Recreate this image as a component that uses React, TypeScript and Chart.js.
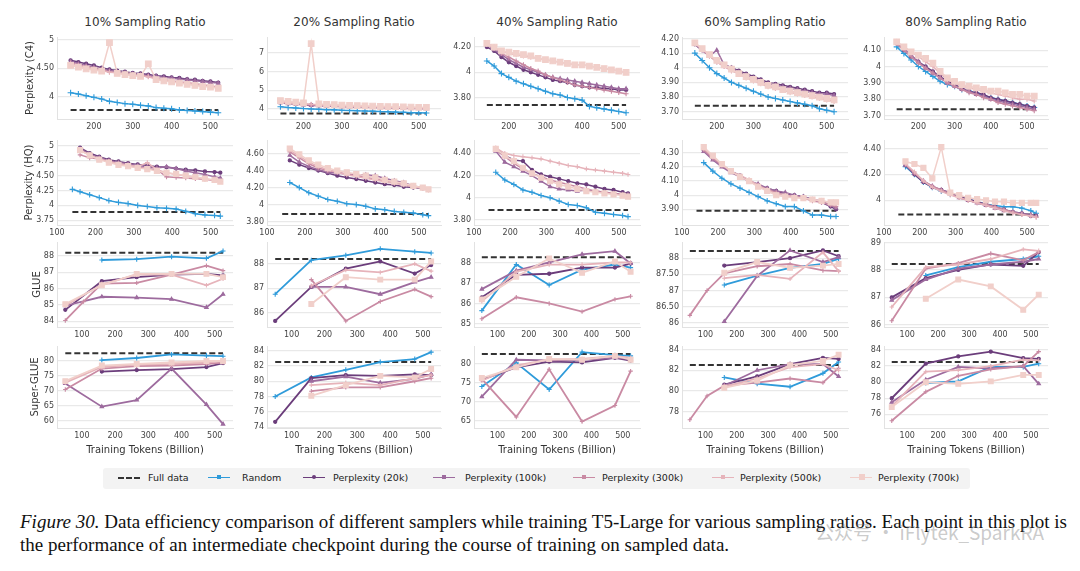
import React, { useEffect, useRef } from "react";
import { Chart, registerables } from "chart.js";
Chart.register(...registerables);

// ---------- labels ----------
const TITLES = ["10% Sampling Ratio", "20% Sampling Ratio", "40% Sampling Ratio", "60% Sampling Ratio", "80% Sampling Ratio"];
const ROW_LABELS = ["Perplexity (C4)", "Perplexity (HQ)", "GLUE", "Super-GLUE"];
const X_TITLE = "Training Tokens (Billion)";
const SERIES = ["Random", "Perplexity (20k)", "Perplexity (100k)", "Perplexity (300k)", "Perplexity (500k)", "Perplexity (700k)"];
const FULL_LABEL = "Full data";

// ---------- x values ----------
const X_DENSE = [140, 160, 180, 200, 220, 240, 260, 280, 300, 320, 340, 360, 380, 400, 420, 440, 460, 480, 500, 520];
const X_MID = [140, 160, 185, 210, 235, 260, 285, 310, 335, 360, 385, 410, 435, 460, 485, 510, 525];
const X_EVAL = [50, 105, 160, 265, 370, 475, 525];

// ---------- Perplexity (C4) : Random, 20k, 100k, 300k, 500k, 700k ----------
const C4_10 = [
  [4.07, 4.05, 4.02, 3.99, 3.96, 3.92, 3.9, 3.88, 3.87, 3.85, 3.84, 3.81, 3.8, 3.79, 3.77, 3.76, 3.75, 3.74, 3.73, 3.72],
  [4.64, 4.61, 4.58, 4.55, 4.51, 4.48, 4.46, 4.44, 4.42, 4.41, 4.39, 4.37, 4.36, 4.34, 4.33, 4.31, 4.3, 4.28, 4.27, 4.25],
  [4.62, 4.58, 4.55, 4.52, 4.48, 4.46, 4.44, 4.42, 4.4, 4.39, 4.37, 4.36, 4.34, 4.33, 4.31, 4.3, 4.28, 4.27, 4.25, 4.24],
  [4.6, 4.56, 4.53, 4.5, 4.47, 4.44, 4.42, 4.41, 4.39, 4.38, 4.36, 4.32, 4.3, 4.28, 4.26, 4.25, 4.23, 4.21, 4.19, 4.17],
  [4.58, 4.54, 4.51, 4.48, 4.46, 4.43, 4.42, 4.4, 4.38, 4.37, 4.35, 4.31, 4.29, 4.27, 4.25, 4.23, 4.21, 4.2, 4.18, 4.16],
  [4.55, 4.52, 4.49, 4.47, 4.45, 4.95, 4.41, 4.39, 4.37, 4.36, 4.58, 4.3, 4.28, 4.26, 4.24, 4.22, 4.2, 4.18, 4.17, 4.15],
];
const C4_20 = [
  [4.12, 4.08, 4.05, 4.02, 4.0, 3.98, 3.96, 3.95, 3.93, 3.92, 3.9, 3.89, 3.88, 3.86, 3.85, 3.83, 3.82, 3.8, 3.79, 3.78],
  [4.35, 4.3, 4.27, 4.24, 4.21, 4.19, 4.17, 4.16, 4.14, 4.13, 4.12, 4.11, 4.1, 4.09, 4.08, 4.07, 4.06, 4.05, 4.04, 4.03],
  [4.33, 4.28, 4.25, 4.22, 4.19, 4.17, 4.15, 4.14, 4.12, 4.11, 4.1, 4.09, 4.08, 4.07, 4.06, 4.05, 4.04, 4.03, 4.02, 4.01],
  [4.38, 4.33, 4.29, 4.26, 4.23, 4.21, 4.19, 4.17, 4.16, 4.14, 4.13, 4.12, 4.11, 4.1, 4.09, 4.08, 4.07, 4.06, 4.05, 4.04],
  [4.4, 4.35, 4.31, 4.28, 4.25, 4.23, 4.21, 4.19, 4.17, 4.16, 4.15, 4.13, 4.12, 4.11, 4.1, 4.09, 4.08, 4.07, 4.06, 4.05],
  [4.45, 4.4, 4.36, 4.33, 7.5, 4.27, 4.25, 4.23, 4.21, 4.19, 4.18, 4.17, 4.15, 4.14, 4.13, 4.12, 4.11, 4.1, 4.09, 4.08],
];
const C4_40 = [
  [4.09, 4.05, 3.99, 3.96, 3.93, 3.91, 3.89, 3.87, 3.85, 3.83, 3.82, 3.8, 3.79, 3.78, 3.73, 3.72, 3.71, 3.7, 3.69, 3.68],
  [4.2, 4.17, 4.12, 4.08, 4.05, 4.02, 4.0, 3.98, 3.96, 3.94, 3.93, 3.92, 3.9, 3.89, 3.88, 3.88, 3.87, 3.87, 3.86, 3.86],
  [4.22, 4.18, 4.14, 4.1, 4.07, 4.04, 4.02, 4.0, 3.98, 3.96, 3.95, 3.94, 3.93, 3.92, 3.91, 3.9, 3.89, 3.88, 3.87, 3.87],
  [4.23, 4.2, 4.15, 4.12, 4.09, 4.06, 4.03, 4.01, 3.98, 3.96, 3.94, 3.92, 3.9, 3.89, 3.88, 3.87, 3.86, 3.85, 3.84, 3.83],
  [4.22, 4.19, 4.17, 4.15, 4.14, 4.13, 4.12, 4.11, 4.1, 4.09, 4.08, 4.07, 4.06, 4.06, 4.05, 4.04, 4.03, 4.02, 4.01, 4.0],
  [4.23, 4.2, 4.17, 4.16, 4.15, 4.14, 4.13, 4.11, 4.1, 4.09, 4.08, 4.07, 4.06, 4.06, 4.05, 4.04, 4.03, 4.02, 4.01, 4.0],
];
const C4_60 = [
  [4.1, 4.05, 4.0, 3.96, 3.93, 3.9, 3.88, 3.86, 3.84, 3.82, 3.8, 3.79, 3.78, 3.77, 3.76, 3.75, 3.74, 3.72, 3.71, 3.7],
  [4.16, 4.12, 4.08, 4.05, 4.02, 4.0, 3.98, 3.96, 3.94, 3.92, 3.9, 3.89, 3.88, 3.87, 3.86, 3.85, 3.84, 3.83, 3.83, 3.82],
  [4.16, 4.12, 4.08, 4.12, 4.02, 4.0, 3.97, 3.95, 3.93, 3.91, 3.89, 3.88, 3.87, 3.86, 3.85, 3.84, 3.83, 3.82, 3.82, 3.81],
  [4.17, 4.12, 4.08, 4.04, 4.01, 3.98, 3.96, 3.94, 3.92, 3.9, 3.88, 3.86, 3.85, 3.84, 3.83, 3.82, 3.81, 3.8, 3.79, 3.78],
  [4.17, 4.13, 4.08, 4.04, 4.01, 3.98, 3.96, 3.93, 3.91, 3.89, 3.87, 3.86, 3.85, 3.83, 3.82, 3.81, 3.8, 3.79, 3.78, 3.77],
  [4.17, 4.13, 4.09, 4.05, 4.02, 3.99, 3.96, 3.94, 3.92, 3.9, 3.88, 3.87, 3.85, 3.84, 3.83, 3.82, 3.81, 3.8, 3.79, 3.78],
];
const C4_80 = [
  [4.12, 4.08, 4.04, 4.0, 3.97, 3.94, 3.91, 3.89, 3.88, 3.86, 3.85, 3.84, 3.82, 3.81, 3.8, 3.79, 3.78, 3.77, 3.76, 3.75],
  [4.14, 4.1, 4.06, 4.03, 4.0, 3.97, 3.94, 3.91, 3.89, 3.87, 3.85, 3.84, 3.83, 3.81, 3.8, 3.79, 3.78, 3.77, 3.76, 3.75],
  [4.15, 4.11, 4.07, 4.03, 3.99, 3.96, 3.93, 3.9, 3.88, 3.86, 3.85, 3.83, 3.82, 3.8, 3.79, 3.78, 3.77, 3.76, 3.75, 3.74],
  [4.14, 4.1, 4.06, 4.02, 3.99, 3.96, 3.93, 3.9, 3.88, 3.86, 3.84, 3.83, 3.81, 3.8, 3.78, 3.77, 3.76, 3.75, 3.74, 3.73],
  [4.15, 4.12, 4.09, 4.06, 4.03, 4.0, 3.96, 3.92, 3.9, 3.88, 3.87, 3.86, 3.85, 3.84, 3.83, 3.82, 3.81, 3.8, 3.8, 3.79],
  [4.15, 4.12, 4.09, 4.07, 4.05, 4.02, 3.97, 3.93, 3.91, 3.89, 3.88, 3.87, 3.86, 3.85, 3.85, 3.84, 3.83, 3.83, 3.82, 3.82],
];

// ---------- Perplexity (HQ) ----------
const HQ_10 = [
  [4.27, 4.23, 4.18, 4.13, 4.08, 4.05, 4.03, 4.0, 3.98, 3.96, 3.95, 3.94, 3.9, 3.86, 3.84, 3.83, 3.82],
  [null, 4.97, 4.88, 4.82, 4.77, 4.74, 4.71, 4.69, 4.67, 4.65, 4.64, 4.62, 4.6, 4.59, 4.57, 4.56, 4.55],
  [null, 4.95, 4.86, 4.8, 4.75, 4.72, 4.7, 4.67, 4.65, 4.63, 4.65, 4.62, 4.58, 4.55, 4.52, 4.48, 4.46],
  [null, 4.85, 4.8, 4.78, 4.74, 4.7, 4.67, 4.64, 4.62, 4.6, 4.48, 4.47, 4.46, 4.45, 4.44, 4.42, 4.4],
  [null, 4.92, 4.85, 4.78, 4.74, 4.7, 4.68, 4.65, 4.72, 4.6, 4.55, 4.52, 4.5, 4.47, 4.45, 4.42, 4.4],
  [null, 4.93, 4.84, 4.77, 4.72, 4.68, 4.66, 4.63, 4.61, 4.58, 4.55, 4.53, 4.5, 4.48, 4.45, 4.43, 4.4],
];
const HQ_20 = [
  [null, 4.26, 4.2, 4.14, 4.1, 4.06, 4.04, 4.01, 4.0, 3.98, 3.95, 3.94, 3.92, 3.91, 3.9, 3.88, 3.87],
  [null, 4.52, 4.47, 4.43, 4.4, 4.37, 4.34, 4.32, 4.3, 4.28, 4.26, 4.24, 4.23, 4.21, 4.2, 4.19, 4.18],
  [null, 4.58, 4.5, 4.45, 4.41, 4.38, 4.37, 4.36, 4.35, 4.35, 4.34, 4.31, 4.28, 4.26, 4.22, 4.19, 4.17],
  [null, 4.62, 4.55, 4.48, 4.43, 4.4, 4.38, 4.36, 4.34, 4.32, 4.3, 4.28, 4.26, 4.24, 4.22, 4.2, 4.18],
  [null, 4.64, 4.57, 4.5, 4.45, 4.41, 4.38, 4.35, 4.33, 4.31, 4.29, 4.27, 4.25, 4.23, 4.21, 4.19, 4.17],
  [null, 4.66, 4.59, 4.52, 4.47, 4.43, 4.4, 4.38, 4.36, 4.34, 4.32, 4.29, 4.27, 4.25, 4.22, 4.2, 4.18],
];
const HQ_40 = [
  [null, 4.23, 4.16, 4.12, 4.07, 4.05, 4.02, 4.0, 3.97, 3.94, 3.93, 3.91, 3.87, 3.86, 3.85, 3.84, 3.83],
  [null, 4.44, 4.38, 4.34, 4.33, 4.25, 4.21, 4.19, 4.17, 4.15, 4.13, 4.12, 4.1, 4.08, 4.07, 4.05, 4.04],
  [null, 4.42, 4.32, 4.28, 4.24, 4.2, 4.15, 4.1, 4.08, 4.07, 4.06, 4.07, 4.06, 4.05, 4.04, 4.03, 4.03],
  [null, 4.43, 4.37, 4.31, 4.26, 4.22, 4.19, 4.16, 4.14, 4.12, 4.1, 4.08, 4.06, 4.05, 4.04, 4.03, 4.02],
  [null, 4.45, 4.4, 4.38, 4.37, 4.36, 4.35, 4.33, 4.31, 4.29, 4.28, 4.26, 4.25, 4.24, 4.23, 4.22, 4.21],
  [null, 4.44, 4.38, 4.33, 4.27, 4.22, 4.18, 4.15, 4.12, 4.1, 4.08, 4.06, 4.05, 4.04, 4.03, 4.02, 4.01],
];
const HQ_60 = [
  [null, 4.23, 4.17, 4.12, 4.08, 4.05, 4.02, 3.99, 3.96, 3.94, 3.92, 3.92, 3.89, 3.86, 3.86, 3.85, 3.85],
  [null, 4.32, 4.26, 4.21, 4.17, 4.14, 4.1, 4.07, 4.05, 4.03, 4.01, 4.0, 3.99, 3.97, 3.95, 3.92, 3.9],
  [null, 4.31, 4.25, 4.2, 4.16, 4.13, 4.1, 4.08, 4.05, 4.03, 4.02, 4.0, 3.99, 3.97, 3.96, 3.93, 3.91],
  [null, 4.32, 4.26, 4.21, 4.17, 4.13, 4.1, 4.07, 4.04, 4.02, 4.0, 3.99, 3.98, 3.96, 3.95, 3.93, 3.92],
  [null, 4.33, 4.27, 4.22, 4.17, 4.14, 4.11, 4.07, 4.04, 4.01, 4.0, 3.99, 3.98, 3.97, 3.96, 3.95, 3.94],
  [null, 4.34, 4.28, 4.22, 4.17, 4.13, 4.1, 4.06, 4.03, 4.0, 3.99, 3.98, 3.98, 3.97, 3.96, 3.95, 3.95],
];
const HQ_80 = [
  [null, 4.26, 4.2, 4.14, 4.1, 4.07, 4.05, 4.03, 4.01, 3.99, 3.97, 3.96, 3.95, 3.95, 3.94, 3.92, 3.9],
  [null, 4.27, 4.2, 4.14, 4.1, 4.08, 4.06, 4.03, 4.01, 3.99, 3.97, 3.95, 3.93, 3.91, 3.9, 3.88, 3.88],
  [null, 4.27, 4.21, 4.15, 4.11, 4.08, 4.05, 4.02, 4.0, 3.98, 3.96, 3.94, 3.92, 3.91, 3.9, 3.89, 3.88],
  [null, 4.28, 4.21, 4.15, 4.11, 4.08, 4.05, 4.02, 4.0, 3.98, 3.97, 3.95, 3.93, 3.91, 3.89, 3.88, 3.87],
  [null, 4.28, 4.22, 4.15, 4.1, 4.07, 4.04, 4.02, 4.0, 3.98, 3.96, 3.94, 3.92, 3.9, 3.89, 3.88, 3.87],
  [null, 4.3, 4.28, 4.25, 4.17, 4.41, 4.06, 4.04, 4.02, 4.01, 4.0, 3.99, 3.99, 3.98, 3.98, 3.98, 3.98],
];

// ---------- GLUE ----------
const GLUE_10 = [
  [null, null, 87.75, 87.8, 87.95, 87.85, 88.3],
  [84.7, null, 86.45, 86.7, 86.85, 86.9, 86.8],
  [84.95, null, 85.5, 85.45, 85.35, 84.85, 85.65],
  [84.05, 85.2, 86.3, 86.35, 86.85, 87.4, 87.1],
  [84.95, null, 86.25, 86.85, 86.85, 86.2, 86.6],
  [85.05, null, 86.2, 86.9, 86.9, 86.9, 86.7],
];
const GLUE_20 = [
  [86.75, null, 88.15, 88.35, 88.62, 88.5, 88.45],
  [85.65, null, 87.05, 87.8, 88.1, 87.6, 87.95],
  [null, null, 87.05, 87.05, 86.75, 87.25, 87.45],
  [null, null, 87.35, 85.65, 86.45, 86.95, 86.65],
  [null, null, 87.1, 87.75, 87.65, 88.0, 87.7],
  [null, null, 86.35, 87.45, 87.35, 87.35, 88.1],
];
const GLUE_40 = [
  [85.65, null, 87.9, 86.9, 87.65, 87.9, 87.75],
  [86.3, null, 87.4, 87.45, 87.75, 87.75, 87.95],
  [86.7, null, 87.6, 88.0, 88.4, 88.55, 87.95],
  [85.25, null, 86.3, 86.0, 85.6, 86.2, 86.35],
  [86.1, null, 87.55, 87.9, 87.9, 88.0, 88.0],
  [86.2, null, 87.3, 88.2, 87.5, 88.05, 87.55],
];
const GLUE_60 = [
  [null, null, 87.17, 87.46, 87.7, 87.82, 87.98],
  [null, null, 87.77, 87.88, 88.0, 88.24, 88.06],
  [null, null, 86.04, 87.45, 88.24, 87.88, 88.03],
  [86.23, 87.0, 87.53, 87.75, 87.82, 87.62, 87.6],
  [null, null, 87.38, 87.48, 87.36, 88.18, 87.6],
  [null, null, 87.55, 87.88, 87.7, 87.77, 87.82],
];
const GLUE_80 = [
  [null, null, 87.8, 88.1, 88.3, 88.4, 88.5],
  [87.0, null, 87.7, 88.0, 88.2, 88.15, 88.65],
  [86.9, null, 87.65, 88.05, 88.2, 88.3, 88.4],
  [86.15, null, 88.05, 88.25, 88.6, 88.35, 88.65],
  [86.65, null, 88.1, 88.2, 88.4, 88.75, 88.7],
  [null, null, 86.95, 87.65, 87.4, 86.55, 87.1],
];

// ---------- Super-GLUE ----------
const SGLUE_10 = [
  [null, null, 80.3, 81.0, 82.2, 81.8, 81.6],
  [null, null, 76.5, 77.0, 77.3, 78.0, 79.3],
  [72.5, null, 64.8, 67.0, 77.5, 65.5, 59.0],
  [70.5, null, 77.5, 78.3, 78.5, 79.0, 79.5],
  [72.8, null, 78.0, 78.8, 79.0, 79.5, 80.0],
  [73.3, null, 78.5, 79.0, 79.5, 80.0, 80.0],
];
const SGLUE_20 = [
  [78.0, null, 80.5, 81.5, 82.5, 82.9, 83.8],
  [74.7, null, 80.4, 80.8, 80.7, 80.9, 80.8],
  [null, null, 80.0, 80.6, 79.8, 80.3, 80.9],
  [null, null, 78.7, 79.2, 79.2, 80.0, 80.4],
  [null, null, 79.5, 79.8, 79.5, 80.4, 80.8],
  [null, null, 78.1, 79.5, 80.7, 80.5, 81.6],
];
const SGLUE_40 = [
  [74.0, null, 80.2, 73.2, 83.0, 82.2, 82.0],
  [75.8, null, 79.0, 80.5, 80.3, 81.5, 80.8],
  [71.3, null, 81.0, 80.8, 81.0, 81.5, 81.2],
  [76.0, null, 66.0, 78.5, 64.8, 69.0, 78.0],
  [75.5, null, 79.5, 81.0, 81.2, 82.0, 81.5],
  [76.2, null, 79.0, 81.2, 81.0, 82.0, 81.0],
];
const SGLUE_60 = [
  [null, null, 81.3, 80.7, 80.4, 81.7, 82.8],
  [null, null, 80.6, 81.4, 82.6, 83.2, 83.1],
  [null, null, 80.5, 82.0, 82.6, 82.6, 81.4],
  [77.2, 79.5, 80.5, 80.8, 81.2, 80.8, 82.2],
  [null, null, 80.4, 81.2, 82.3, 82.6, 82.0],
  [null, null, 80.3, 81.0, 82.5, 82.9, 83.5],
];
const SGLUE_80 = [
  [null, null, 79.9, 80.1, 81.9, 81.9, 82.3],
  [78.0, null, 82.3, 83.2, 83.8, 83.0, 82.9],
  [77.5, null, 80.3, 81.9, 81.7, 82.0, 79.8],
  [75.2, null, 78.8, 80.8, 81.6, 82.0, 83.8],
  [77.0, null, 81.3, 81.5, 82.0, 82.8, 82.7],
  [76.9, null, 80.0, 79.8, 80.1, 80.9, 80.9],
];

// ---------- full-data reference levels ----------
const FULL_C4 = [3.77, 3.75, 3.74, 3.74, 3.74];
const FULL_HQ = [3.89, 3.89, 3.89, 3.89, 3.89];
const FULL_GLUE = [88.2, 88.2, 88.25, 88.22, 88.22];
const FULL_SGLUE = [82.6, 82.5, 82.5, 82.5, 82.5];

// ---------- ticks ----------
const YT_C4 = [[4, 4.5, 5], [4, 5, 6, 7], [3.8, 4, 4.2], [3.7, 3.8, 3.9, 4, 4.1, 4.2], [3.7, 3.8, 3.9, 4, 4.1]];
const YT_HQ = [[3.75, 4, 4.25, 4.5, 4.75, 5], [3.8, 4, 4.2, 4.4, 4.6], [3.8, 4, 4.2, 4.4], [3.9, 4, 4.1, 4.2, 4.3], [4, 4.2, 4.4]];
const YT_GLUE = [[84, 85, 86, 87, 88], [86, 87, 88], [85, 86, 87, 88], [86, 86.5, 87, 87.5, 88], [86, 87, 88, 89]];
const YT_SGLUE = [[60, 65, 70, 75, 80], [74, 76, 78, 80, 82, 84], [65, 70, 75, 80], [78, 80, 82, 84], [76, 78, 80, 82, 84]];
const YR_C4 = [[3.61, 5.05], [3.46, 7.86], [3.63, 4.28], [3.65, 4.21], [3.68, 4.18]];
const YR_HQ = [[3.67, 5.1], [3.76, 4.76], [3.755, 4.52], [3.79, 4.39], [3.81, 4.465]];
const YR_GLUE = [[83.65, 88.85], [85.4, 88.9], [84.85, 89.0], [85.87, 88.5], [85.92, 89.02]];
const YR_SGLUE = [[57.7, 85], [73.9, 84.6], [63.1, 84.6], [76.4, 84.35], [74.3, 84.5]];
const XT_ROW = [[200, 300, 400, 500], [100, 200, 300, 400, 500], [100, 200, 300, 400, 500], [100, 200, 300, 400, 500]];
const XR_ROW = [[105, 558], [100, 558], [25, 555], [25, 555]];

const ROW_DATA = [
  [C4_10, C4_20, C4_40, C4_60, C4_80],
  [HQ_10, HQ_20, HQ_40, HQ_60, HQ_80],
  [GLUE_10, GLUE_20, GLUE_40, GLUE_60, GLUE_80],
  [SGLUE_10, SGLUE_20, SGLUE_40, SGLUE_60, SGLUE_80],
];
const ROW_X = [X_DENSE, X_MID, X_EVAL, X_EVAL];
const ROW_FULL = [FULL_C4, FULL_HQ, FULL_GLUE, FULL_SGLUE];
const ROW_YT = [YT_C4, YT_HQ, YT_GLUE, YT_SGLUE];
const ROW_YR = [YR_C4, YR_HQ, YR_GLUE, YR_SGLUE];

// ---------- style ----------
const COLORS = ["#2f9bda", "#6b3d7b", "#9d6b9e", "#c98aa3", "#e6b3ba", "#f1cfca"];
const FULL_COLOR = "#333333";
const STYLES = ["cross", "circle", "triangle", "cross", "cross", "rect"];
const RADII = [
  [3, 1.6, 2, 2.5, 2.5, 4],
  [2.8, 1.6, 2, 2.3, 2.3, 3.6],
  [2.5, 1.6, 2, 2.2, 2.2, 3.4],
  [2.5, 1.6, 2, 2.2, 2.2, 3.4],
];
const FONT = '"DejaVu Sans", sans-serif';

// ---------- layout ----------
const PLOT_LEFT = [57, 267, 474, 682, 884];
const PLOT_RIGHT = [233, 441, 640, 848, 1048];
const PLOT_TOP = [37, 140, 242, 346];
const PLOT_BOTTOM = [119, 225, 327, 428];
const Y_TITLE_PAD = [24, 23, 31, 29];

function fmt(v: number) {
  return Number.isInteger(v) ? String(v) : v.toFixed(2);
}

function pts(xs: number[], ys: (number | null)[]) {
  return xs.map((x, i) => ({ x, y: ys[i] }));
}

function Subplot({ r, c }: { r: number; c: number }) {
  const ref = useRef<HTMLCanvasElement | null>(null);
  const axisW = c === 0 ? PLOT_LEFT[0] : 40;
  const left = PLOT_LEFT[c] - axisW;
  const padTop = 8;
  const padRight = 4;
  const xAxisH = r === 3 ? 32 : 16;
  const width = PLOT_RIGHT[c] - left + padRight;
  const top = PLOT_TOP[r] - padTop;
  const height = PLOT_BOTTOM[r] - top + xAxisH;

  useEffect(() => {
    const xs = ROW_X[r];
    const series = ROW_DATA[r][c];
    const full = ROW_FULL[r][c];
    const datasets: any[] = [];
    for (let s = SERIES.length - 1; s >= 0; s--) {
      datasets.push({
        label: SERIES[s],
        data: pts(xs, series[s]),
        borderColor: COLORS[s],
        backgroundColor: COLORS[s],
        borderWidth: r < 2 ? 1.5 : 1.8,
        pointStyle: STYLES[s],
        pointRadius: RADII[r][s],
        pointBorderWidth: 1.1,
        pointBackgroundColor: COLORS[s],
        pointBorderColor: COLORS[s],
        spanGaps: true,
        tension: 0,
      });
    }
    datasets.push({
      label: FULL_LABEL,
      data: [
        { x: xs[0], y: full },
        { x: xs[xs.length - 1], y: full },
      ],
      borderColor: FULL_COLOR,
      borderDash: [6, 3],
      borderWidth: 2,
      pointRadius: 0,
    });
    const tickFont = { family: FONT, size: 8 };
    const chart = new Chart(ref.current as HTMLCanvasElement, {
      type: "line",
      data: { datasets },
      options: {
        responsive: false,
        animation: false,
        events: [],
        layout: { padding: { top: padTop, right: padRight, left: 0, bottom: 0 }, autoPadding: false },
        plugins: { legend: { display: false }, tooltip: { enabled: false }, title: { display: false } },
        scales: {
          x: {
            type: "linear",
            min: XR_ROW[r][0],
            max: XR_ROW[r][1],
            afterBuildTicks: (s: any) => {
              s.ticks = XT_ROW[r].map((v) => ({ value: v }));
            },
            afterFit: (s: any) => {
              s.height = xAxisH;
            },
            ticks: { callback: (v: any) => String(v), font: tickFont, color: "#444", padding: 3, maxRotation: 0, autoSkip: false },
            grid: { display: false, drawTicks: false },
            border: { display: true, color: "#e2e2e2", width: 1 },
            title: {
              display: r === 3,
              text: X_TITLE,
              font: { family: FONT, size: 10 },
              color: "#333",
              padding: { top: 0, bottom: 4 },
            },
          },
          y: {
            type: "linear",
            min: ROW_YR[r][c][0],
            max: ROW_YR[r][c][1],
            afterBuildTicks: (s: any) => {
              s.ticks = ROW_YT[r][c].map((v) => ({ value: v }));
            },
            afterFit: (s: any) => {
              s.width = axisW;
            },
            ticks: { callback: (v: any) => fmt(Number(v)), font: tickFont, color: "#444", padding: 3, autoSkip: false },
            grid: { color: "#e9e9e9", lineWidth: 1.2, drawTicks: false },
            border: { display: true, color: "#e2e2e2", width: 1 },
            title: {
              display: c === 0,
              text: ROW_LABELS[r],
              font: { family: FONT, size: 10 },
              color: "#333",
              padding: { top: Y_TITLE_PAD[r], bottom: 0 },
            },
          },
        },
      } as any,
    });
    return () => chart.destroy();
  }, []);

  return (
    <canvas
      ref={ref}
      width={width}
      height={height}
      style={{ position: "absolute", left, top, width, height }}
    />
  );
}

const LEGEND_SAMPLE_X = [118, 208, 303, 433, 573, 712, 850];
const LEGEND_TEXT_X = [148, 242, 333, 465, 602, 740, 878];

function LegendItem({ i }: { i: number }) {
  const isFull = i === 0;
  const color = isFull ? FULL_COLOR : COLORS[i - 1];
  const label = isFull ? FULL_LABEL : SERIES[i - 1];
  const style = isFull ? "" : STYLES[i - 1];
  return (
    <>
      <div
        style={{
          position: "absolute",
          left: LEGEND_SAMPLE_X[i] - 103,
          top: 9,
          width: 22,
          height: 0,
          borderTop: isFull ? `2px dashed ${color}` : `1.5px solid ${color}`,
        }}
      />
      {!isFull && (
        <div
          style={{
            position: "absolute",
            left: LEGEND_SAMPLE_X[i] - 103 + 9,
            top: style === "rect" ? 6 : 7,
            width: style === "rect" ? 6 : 4,
            height: style === "rect" ? 6 : 4,
            background: color,
            borderRadius: style === "circle" ? 2 : 0,
          }}
        />
      )}
      <div
        style={{
          position: "absolute",
          left: LEGEND_TEXT_X[i] - 103,
          top: 4,
          fontFamily: FONT,
          fontSize: 9.5,
          lineHeight: "12px",
          color: "#222",
          whiteSpace: "nowrap",
        }}
      >
        {label}
      </div>
    </>
  );
}

export default function App() {
  const cells: React.ReactNode[] = [];
  for (let r = 0; r < 4; r++) for (let c = 0; c < 5; c++) cells.push(<Subplot key={`${r}-${c}`} r={r} c={c} />);
  return (
    <div style={{ position: "absolute", left: 0, top: 0, width: 1080, height: 571, background: "#fff", overflow: "hidden" }}>
      {TITLES.map((t, c) => (
        <div
          key={t}
          style={{
            position: "absolute",
            left: PLOT_LEFT[c],
            width: PLOT_RIGHT[c] - PLOT_LEFT[c],
            top: 14,
            textAlign: "center",
            fontFamily: FONT,
            fontSize: 12,
            lineHeight: "16px",
            color: "#333",
            whiteSpace: "nowrap",
          }}
        >
          {t}
        </div>
      ))}
      {cells}
      <div style={{ position: "absolute", left: 103, top: 468, width: 867, height: 21, background: "#f3f3f3", borderRadius: 3 }}>
        {[0, 1, 2, 3, 4, 5, 6].map((i) => (
          <LegendItem key={i} i={i} />
        ))}
      </div>
      <div
        style={{
          position: "absolute",
          left: 20,
          top: 510,
          fontFamily: '"Liberation Serif", "Times New Roman", serif',
          fontSize: 19,
          lineHeight: "23px",
          color: "#111",
          whiteSpace: "nowrap",
        }}
      >
        <div>
          <i>Figure 30.</i> Data efficiency comparison of different samplers while training T5-Large for various sampling ratios. Each point in this plot is
        </div>
        <div>the performance of an intermediate checkpoint during the course of training on sampled data.</div>
      </div>
      <div
        style={{
          position: "absolute",
          left: 815,
          top: 519,
          fontFamily: '"Noto Sans CJK SC", "DejaVu Sans", sans-serif',
          fontSize: 19,
          lineHeight: "26px",
          color: "rgba(120,120,120,0.4)",
          whiteSpace: "nowrap",
        }}
      >
        公众号 · iFlytek_SparkRA
      </div>
    </div>
  );
}
